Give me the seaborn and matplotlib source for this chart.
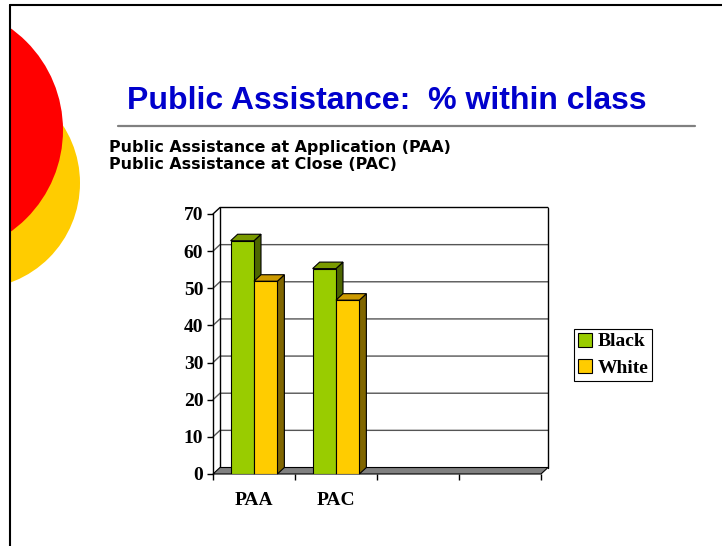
import numpy as np
import pandas as pd
import matplotlib
matplotlib.use("Agg")
import matplotlib.pyplot as plt
import matplotlib.patches as mpatches
import matplotlib.lines as mlines
import matplotlib.transforms as mtransforms
import seaborn as sns

# ---- data -------------------------------------------------------------
categories = ["PAA", "PAC"]
groups = ["Black", "White"]
black_pct = [62.8, 55.3]
white_pct = [51.9, 46.8]
y_ticks = [0, 10, 20, 30, 40, 50, 60, 70]
n_slots = 4  # category slots on the axis (two stay empty)

title = "Public Assistance:  % within class"
subtitle_lines = ["Public Assistance at Application (PAA)",
                  "Public Assistance at Close (PAC)"]

df = pd.DataFrame({
    "measure": categories * 2,
    "group": [groups[0]] * len(categories) + [groups[1]] * len(categories),
    "pct": black_pct + white_pct,
})

# ---- style ------------------------------------------------------------
front_colors = ["#99CC00", "#FFCC00"]
top_colors = ["#7A9A00", "#CC9A00"]
side_colors = ["#4D6600", "#806600"]
serif = dict(fontfamily="Liberation Serif", fontweight="bold", fontsize=14,
             color="black")

sns.set_style("white")
plt.rcParams["font.family"] = ["DejaVu Sans"]
plt.rcParams["text.color"] = "black"
plt.rcParams["xtick.color"] = "black"
plt.rcParams["ytick.color"] = "black"

W, H = 722, 546
fig = plt.figure(figsize=(W / 100, H / 100), dpi=100)


def fx(px):
    return px / W


def fy(py):
    return 1 - py / H


# ---- slide decoration -------------------------------------------------
pix = mtransforms.IdentityTransform()
clip = mtransforms.Bbox([[10, 0], [W, H]])
for (cx, cy, r, col) in [(-26, 183, 106, "#FFCC00"), (-62, 130, 125, "#FF0000")]:
    c = mpatches.Circle((cx, H - cy), r, transform=pix, facecolor=col,
                        edgecolor="none")
    c.set_clip_box(clip)
    fig.add_artist(c)

fig.add_artist(mlines.Line2D([fx(10), 1], [fy(5), fy(5)], color="black", lw=1.5))
fig.add_artist(mlines.Line2D([fx(10), fx(10)], [fy(5), 0], color="black", lw=1.5))
fig.add_artist(mlines.Line2D([fx(118), fx(695)], [fy(125.7), fy(125.7)],
                             color="#808080", lw=1.6))

fig.text(fx(127), fy(109), title, fontfamily="Liberation Sans",
         fontweight="bold", fontsize=23, color="#0000CC", va="baseline")
for i, line in enumerate(subtitle_lines):
    fig.text(fx(109), fy(151.7 + 17.5 * i), line, fontfamily="DejaVu Sans",
             fontweight="bold", fontsize=11.4, color="black", va="baseline")

# ---- chart ------------------------------------------------------------
ax = fig.add_axes([fx(213), fy(474), (541 - 213) / W, (474 - 214) / H])
sns.barplot(data=df, x="measure", y="pct", hue="group", order=categories,
            hue_order=groups, palette=front_colors, width=0.57,
            saturation=1, edgecolor="black", linewidth=0.8, legend=False,
            ax=ax)
ax.set_xlim(-0.5, n_slots - 0.5)
ax.set_ylim(y_ticks[0], y_ticks[-1])
ax.set_xlabel("")
ax.set_ylabel("")

# depth of the 3-D effect, in data units
DEPTH_X, DEPTH_Y = 7.0, 6.5
pos = ax.get_position()
x0l, x1l = ax.get_xlim()
y0l, y1l = ax.get_ylim()
ddx = DEPTH_X * (x1l - x0l) / (pos.width * W)
ddy = DEPTH_Y * (y1l - y0l) / (pos.height * H)

xl, xr = x0l, x1l
# floor
floor = mpatches.Polygon([(xl, 0), (xr, 0), (xr + ddx, ddy), (xl + ddx, ddy)],
                         closed=True, facecolor="#808080", edgecolor="black",
                         lw=0.8, zorder=2, clip_on=False)
ax.add_patch(floor)

# back wall gridlines and side wall edges
for v in y_ticks[1:]:
    col = "black" if v == y_ticks[-1] else "#555555"
    ax.add_line(mlines.Line2D([xl, xl + ddx, xr + ddx], [v, v + ddy, v + ddy],
                              color=col, lw=1.0, zorder=1, clip_on=False))
for xv in (xl + ddx, xr + ddx):
    ax.add_line(mlines.Line2D([xv, xv], [ddy, y_ticks[-1] + ddy], color="black",
                              lw=1.0, zorder=1, clip_on=False))

# extruded bar faces
for gi, container in enumerate(ax.containers):
    for bar in container:
        bx, bw, bh = bar.get_x(), bar.get_width(), bar.get_height()
        base_z = 3 + bx
        bar.set_zorder(base_z + 0.02)
        top = mpatches.Polygon([(bx, bh), (bx + bw, bh), (bx + bw + ddx, bh + ddy),
                                (bx + ddx, bh + ddy)], closed=True,
                               facecolor=top_colors[gi], edgecolor="black",
                               lw=0.8, zorder=base_z + 0.01, clip_on=False)
        side = mpatches.Polygon([(bx + bw, 0), (bx + bw + ddx, ddy),
                                 (bx + bw + ddx, bh + ddy), (bx + bw, bh)],
                                closed=True, facecolor=side_colors[gi],
                                edgecolor="black", lw=0.8,
                                zorder=base_z + 0.01, clip_on=False)
        ax.add_patch(side)
        ax.add_patch(top)

# axes, ticks and labels
for s in ("top", "right", "bottom"):
    ax.spines[s].set_visible(False)
ax.spines["left"].set_color("black")
ax.spines["left"].set_linewidth(1.0)

ax.set_yticks(y_ticks, [str(t) for t in y_ticks], **serif)
ax.set_xticks(np.arange(n_slots + 1) - 0.5, [""] * (n_slots + 1))
ax.set_xticks(np.arange(len(categories)), categories, minor=True, **serif)
ax.tick_params(axis="y", left=True, direction="out", length=4, width=1,
               color="black", pad=3)
ax.tick_params(axis="x", which="major", bottom=True, direction="out",
               length=4, width=1, color="black")
ax.tick_params(axis="x", which="minor", bottom=True, length=0, pad=13)
ax.patch.set_alpha(0)

# legend
handles = [mpatches.Patch(facecolor=c, edgecolor="black", linewidth=0.8)
           for c in front_colors]
leg = fig.legend(handles, groups, loc="upper left",
                 bbox_to_anchor=(fx(574), fy(329)), frameon=True,
                 fancybox=False, edgecolor="black", framealpha=1,
                 borderaxespad=0,
                 prop=dict(family="Liberation Serif", weight="bold", size=14),
                 handlelength=0.7, handleheight=0.7, handletextpad=0.3,
                 labelspacing=0.45, borderpad=0.2)
leg.get_frame().set_linewidth(0.8)
for t in leg.get_texts():
    t.set_color("black")

fig.savefig("out.png", dpi=100)
